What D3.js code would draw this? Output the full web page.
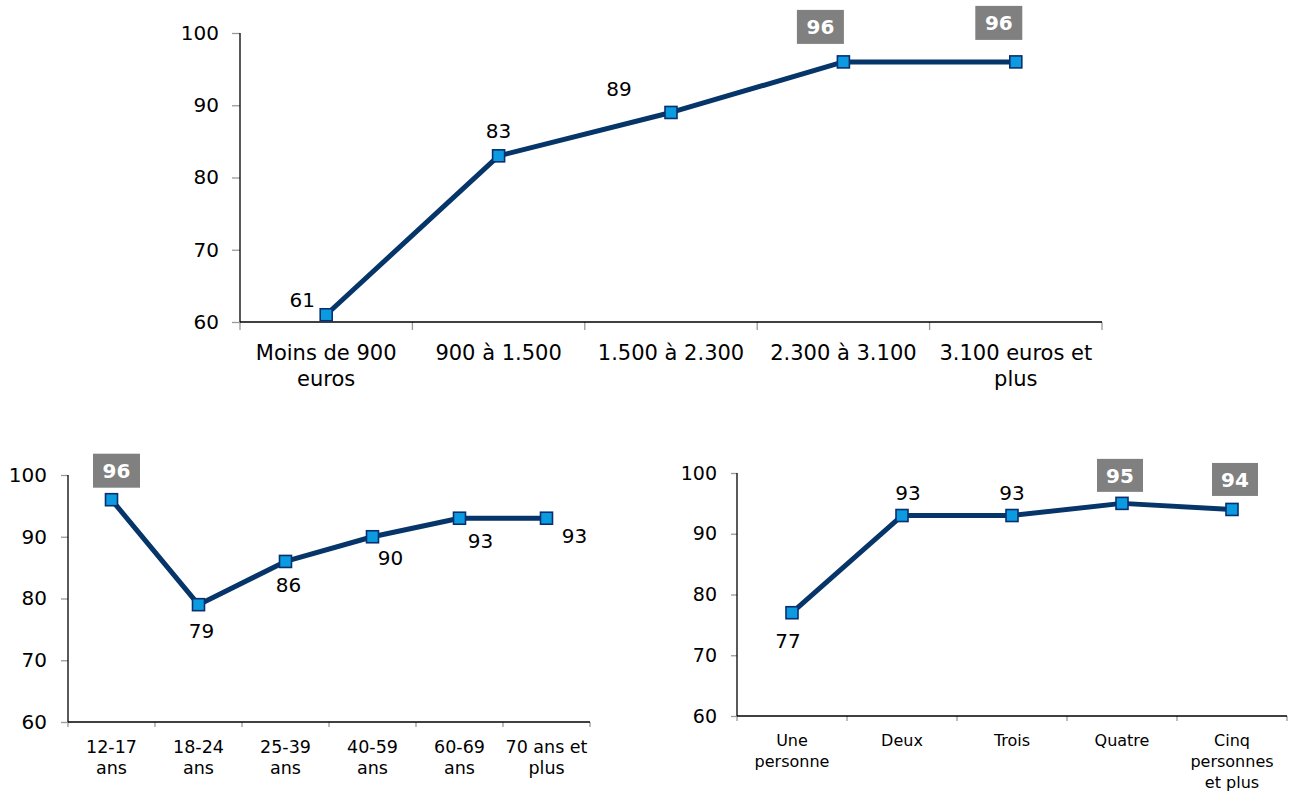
<!DOCTYPE html>
<html>
<head>
<meta charset="utf-8">
<script src="https://cdn.jsdelivr.net/npm/d3@7"></script>
<style>
  html, body { margin: 0; padding: 0; background: #ffffff; }
  svg { display: block; font-family: Verdana, "DejaVu Sans", sans-serif; }
</style>
</head>
<body>
<svg id="chart" width="1292" height="799"></svg>
<script>
// ---------- DATA ----------
const incomeCategories = ["Moins de 900\neuros", "900 à 1.500", "1.500 à 2.300", "2.300 à 3.100", "3.100 euros et\nplus"];
const incomeValues = [61, 83, 89, 96, 96];
const incomeHighlight = [false, false, false, true, true];

const ageCategories = ["12-17\nans", "18-24\nans", "25-39\nans", "40-59\nans", "60-69\nans", "70 ans et\nplus"];
const ageValues = [96, 79, 86, 90, 93, 93];
const ageHighlight = [true, false, false, false, false, false];

const householdCategories = ["Une\npersonne", "Deux", "Trois", "Quatre", "Cinq\npersonnes\net plus"];
const householdValues = [77, 93, 93, 95, 94];
const householdHighlight = [false, false, false, true, true];

const yTickValues = [60, 70, 80, 90, 100];
const yDomain = [60, 100];

// ---------- LAYOUT (label offsets relative to each point) ----------
const incomeLabelOffsets = [[-24, -15], [0, -25], [-52, -24], [-23, -35], [-17, -39]];
const ageLabelOffsets = [[5, -29], [3, 26], [3, 23], [18, 21], [21, 23], [28, 18]];
const householdLabelOffsets = [[-4, 28], [6, -23], [0, -23], [-2, -28], [3, -30]];

const svg = d3.select("#chart");

function drawChart(opt) {
  const g = svg.append("g");
  const x = d3.scaleBand().domain(opt.categories).range([opt.left, opt.right]);
  const y = d3.scaleLinear().domain(yDomain).range([opt.bottom, opt.top]);

  // Y axis
  const yAxis = g.append("g")
    .attr("transform", `translate(${opt.left},0)`)
    .call(d3.axisLeft(y).tickValues(yTickValues).tickSize(opt.yTick).tickPadding(opt.yPad));
  yAxis.select(".domain").remove();
  yAxis.selectAll(".tick line").attr("stroke", "#999999").attr("stroke-width", 1.3);
  yAxis.selectAll(".tick text")
    .attr("font-size", opt.yFont).attr("fill", "#000")
    .attr("font-family", 'Verdana, "DejaVu Sans", sans-serif');
  g.append("line")
    .attr("x1", opt.left).attr("x2", opt.left)
    .attr("y1", y(100)).attr("y2", opt.bottom)
    .attr("stroke", "#000").attr("stroke-width", 1.3);

  // X axis
  const boundaries = opt.categories.map(c => x(c)).concat([opt.right]);
  g.selectAll(".xt").data(boundaries).enter().append("line")
    .attr("x1", d => d).attr("x2", d => d)
    .attr("y1", opt.bottom).attr("y2", opt.bottom + opt.xTick)
    .attr("stroke", "#999999").attr("stroke-width", 1.3);
  g.append("line")
    .attr("x1", opt.left).attr("x2", opt.right)
    .attr("y1", opt.bottom).attr("y2", opt.bottom)
    .attr("stroke", "#000").attr("stroke-width", 1.3);

  // Category labels
  const cx = c => x(c) + x.bandwidth() / 2;
  opt.categories.forEach(c => {
    const t = g.append("text")
      .attr("x", cx(c)).attr("y", opt.bottom + opt.xLabelDy)
      .attr("text-anchor", "middle")
      .attr("font-size", opt.xFont).attr("fill", "#000");
    c.split("\n").forEach((line, i) => {
      t.append("tspan").attr("x", cx(c)).attr("dy", i === 0 ? 0 : opt.xLineH).text(line);
    });
  });

  // Line
  const pts = opt.values.map((v, i) => [cx(opt.categories[i]), y(v)]);
  g.append("path")
    .datum(pts)
    .attr("d", d3.line())
    .attr("fill", "none")
    .attr("stroke", "#06356a")
    .attr("stroke-width", 5)
    .attr("stroke-linejoin", "round");

  // Markers
  const ms = opt.marker;
  g.selectAll(".mk").data(pts).enter().append("rect")
    .attr("x", d => d[0] - ms / 2).attr("y", d => d[1] - ms / 2)
    .attr("width", ms).attr("height", ms)
    .attr("fill", "#0a9be0").attr("stroke", "#0b2f6e").attr("stroke-width", 1.6);

  // Data labels
  pts.forEach((p, i) => {
    const [dx, dy] = opt.offsets[i];
    const lx = p[0] + dx, ly = p[1] + dy;
    if (opt.highlight[i]) {
      g.append("rect")
        .attr("x", lx - opt.boxW / 2).attr("y", ly - opt.boxH / 2)
        .attr("width", opt.boxW).attr("height", opt.boxH)
        .attr("fill", "#808080");
      g.append("text")
        .attr("x", lx).attr("y", ly)
        .attr("dy", "0.36em")
        .attr("text-anchor", "middle")
        .attr("font-size", opt.labelFont).attr("font-weight", "bold")
        .attr("fill", "#ffffff")
        .text(opt.values[i]);
    } else {
      g.append("text")
        .attr("x", lx).attr("y", ly)
        .attr("dy", "0.36em")
        .attr("text-anchor", "middle")
        .attr("font-size", opt.labelFont)
        .attr("fill", "#000")
        .text(opt.values[i]);
    }
  });
}

drawChart({
  categories: incomeCategories, values: incomeValues, highlight: incomeHighlight,
  offsets: incomeLabelOffsets,
  left: 240, right: 1102, top: 33, bottom: 322,
  yTick: 8, yPad: 13, yFont: 20, xTick: 8, xFont: 21, xLabelDy: 38, xLineH: 26,
  labelFont: 20, marker: 12, boxW: 47, boxH: 34
});

drawChart({
  categories: ageCategories, values: ageValues, highlight: ageHighlight,
  offsets: ageLabelOffsets,
  left: 68, right: 590, top: 475, bottom: 722,
  yTick: 7, yPad: 14, yFont: 20, xTick: 5, xFont: 17.5, xLabelDy: 31, xLineH: 21,
  labelFont: 20, marker: 12, boxW: 47, boxH: 34
});

drawChart({
  categories: householdCategories, values: householdValues, highlight: householdHighlight,
  offsets: householdLabelOffsets,
  left: 737, right: 1287, top: 473, bottom: 716,
  yTick: 6, yPad: 14, yFont: 19, xTick: 5, xFont: 16, xLabelDy: 30, xLineH: 21,
  labelFont: 20, marker: 12, boxW: 46, boxH: 33
});
</script>
</body>
</html>
